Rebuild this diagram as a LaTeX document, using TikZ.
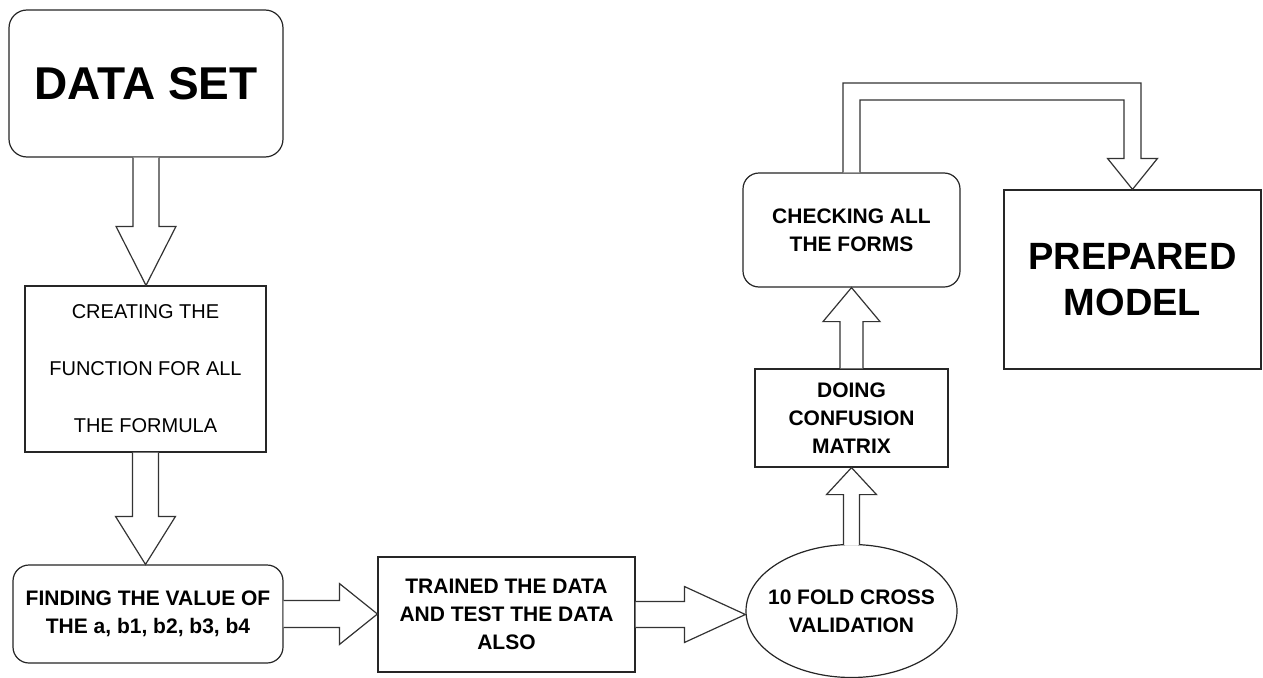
\documentclass[tikz,border=0pt]{standalone}
\usepackage{fontspec}
\setmainfont{Liberation Sans}
\usetikzlibrary{calc,shapes.geometric}
\tikzset{
  box/.style={draw=black!85, line width=1.2pt, fill=white, inner sep=0pt, align=center},
  rbox/.style={box, rounded corners=16pt},
  smalltxt/.style={font=\fontsize{21}{28}\selectfont\bfseries},
  barrow/.style={draw=black!80, line width=1.2pt, fill=white, line join=miter},
}
% down arrow: from #1 to #2, half shaft #3, half head #4, head length #5
\newcommand\downarrowblk[5]{\draw[barrow] let \p1=(#1), \p2=(#2) in
  ({\x1-#3pt},\y1) -- ({\x1-#3pt},{\y2+#5pt}) -- ({\x1-#4pt},{\y2+#5pt}) -- (\x1,\y2)
  -- ({\x1+#4pt},{\y2+#5pt}) -- ({\x1+#3pt},{\y2+#5pt}) -- ({\x1+#3pt},\y1);}
\newcommand\uparrowblk[5]{\draw[barrow] let \p1=(#1), \p2=(#2) in
  ({\x1-#3pt},\y1) -- ({\x1-#3pt},{\y2-#5pt}) -- ({\x1-#4pt},{\y2-#5pt}) -- (\x1,\y2)
  -- ({\x1+#4pt},{\y2-#5pt}) -- ({\x1+#3pt},{\y2-#5pt}) -- ({\x1+#3pt},\y1);}
\newcommand\rightarrowblk[5]{\draw[barrow] let \p1=(#1), \p2=(#2) in
  (\x1,{\y1+#3pt}) -- ({\x2-#5pt},{\y1+#3pt}) -- ({\x2-#5pt},{\y1+#4pt}) -- (\x2,\y1)
  -- ({\x2-#5pt},{\y1-#4pt}) -- ({\x2-#5pt},{\y1-#3pt}) -- (\x1,{\y1-#3pt});}
\begin{document}
\begin{tikzpicture}[x=1pt,y=-1pt]
\useasboundingbox[fill=white] (0,0) rectangle (1263,677);

\node[rbox, rounded corners=18pt, minimum width=274pt, minimum height=147pt,
  font=\fontsize{46}{50}\selectfont\bfseries] (ds) at (146,83.5) {DATA SET};
\node[box, minimum width=241pt, minimum height=166pt,
  font=\fontsize{20}{57}\selectfont] (cf) at (145.5,369)
  {CREATING THE\\FUNCTION FOR ALL\\THE FORMULA};
\node[rbox, smalltxt, minimum width=270pt, minimum height=98pt] (fv) at (148,614)
  {FINDING THE VALUE OF\\THE a, b1, b2, b3, b4};
\node[box, smalltxt, minimum width=257pt, minimum height=115pt] (tr) at (506.5,614.5)
  {TRAINED THE DATA\\AND TEST THE DATA\\ALSO};
\node[box, ellipse, smalltxt, inner xsep=-30pt, inner ysep=-10pt,
  minimum width=211pt, minimum height=133pt] (cv) at (851.5,611)
  {10 FOLD CROSS\\VALIDATION};
\node[box, smalltxt, minimum width=193pt, minimum height=98pt] (dc) at (851.5,418)
  {DOING\\CONFUSION\\MATRIX};
\node[rbox, smalltxt, minimum width=217pt, minimum height=114pt] (ch) at (851.5,230)
  {CHECKING ALL\\THE FORMS};
\node[box, minimum width=257pt, minimum height=179pt,
  font=\fontsize{38}{46}\selectfont\bfseries] (pm) at (1132.5,279.5)
  {PREPARED\\MODEL};

\downarrowblk{ds.south}{cf.north}{13}{30}{59}
\downarrowblk{cf.south}{fv.north}{13}{30}{48}
\rightarrowblk{fv.east}{tr.west}{13.5}{30.5}{38}
\rightarrowblk{tr.east}{cv.west}{13}{28}{61}
\coordinate (cvtop) at ($(cv.north)+(0,1)$);
\uparrowblk{cvtop}{dc.south}{8}{25}{27}
\uparrowblk{dc.north}{ch.south}{11.5}{28.5}{34}

\coordinate (elb) at (851.5,91.5);
\draw[barrow] let \p1=(ch.north), \p2=(pm.north), \p3=(elb) in
  ({\x1-8.5pt},\y1) -- ({\x1-8.5pt},{\y3+8.5pt}) -- ({\x2+8.5pt},{\y3+8.5pt})
  -- ({\x2+8.5pt},{\y2+31pt}) -- ({\x2+25pt},{\y2+31pt}) -- (\x2,\y2)
  -- ({\x2-25pt},{\y2+31pt}) -- ({\x2-8.5pt},{\y2+31pt}) -- ({\x2-8.5pt},{\y3-8.5pt})
  -- ({\x1+8.5pt},{\y3-8.5pt}) -- ({\x1+8.5pt},\y1);
\end{tikzpicture}
\end{document}
